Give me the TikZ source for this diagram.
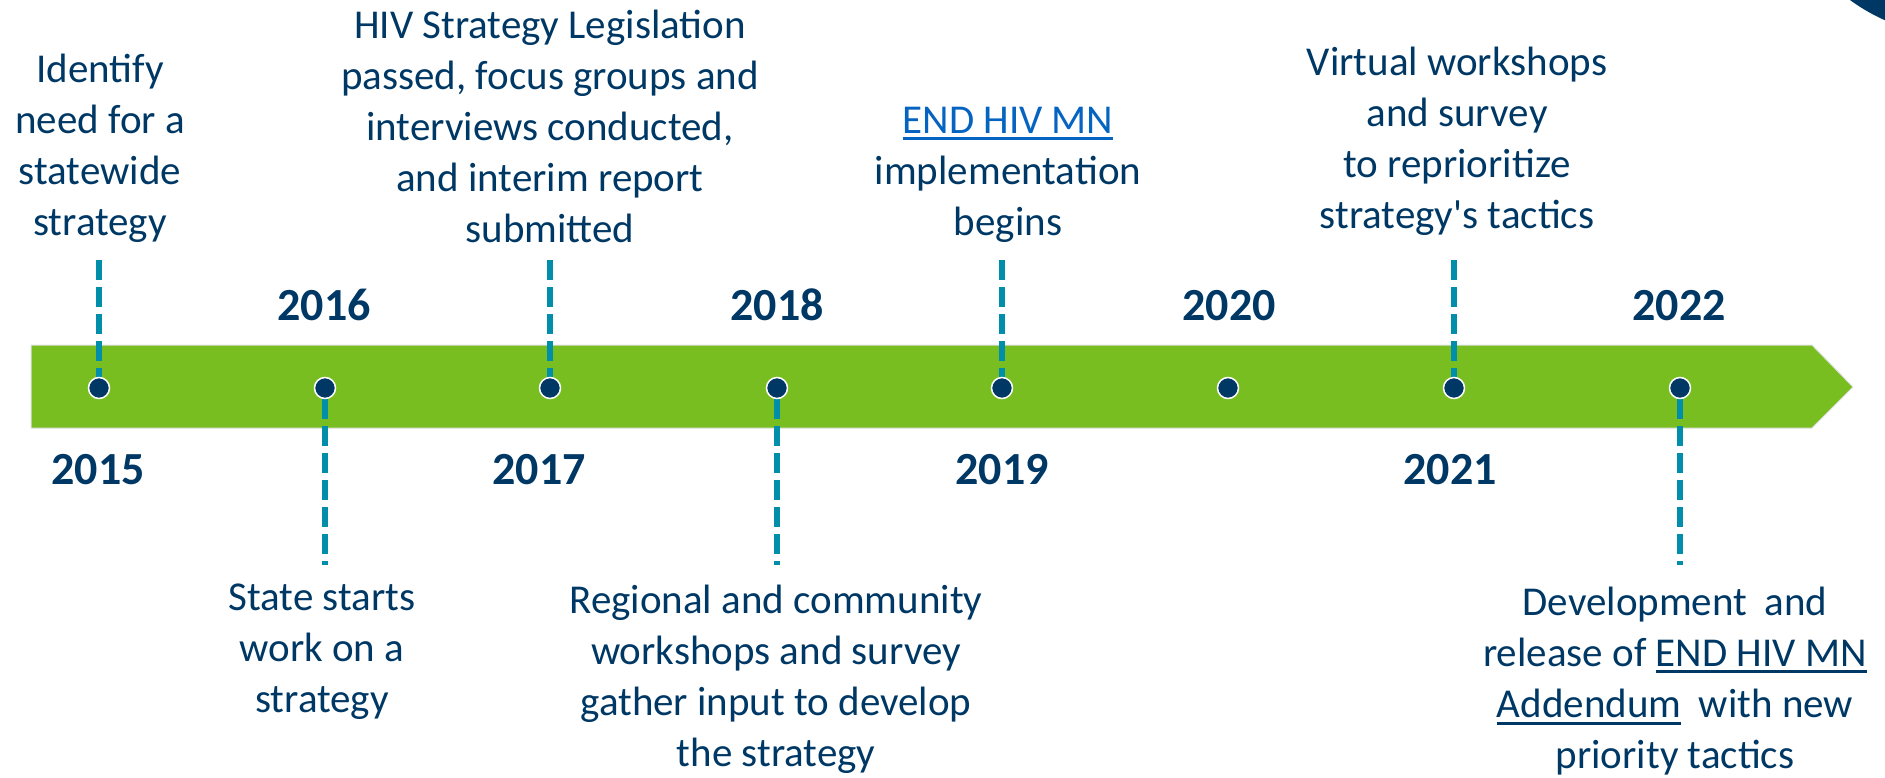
\documentclass[tikz,border=0pt]{standalone}
\usepackage{fontspec}
\setmainfont{Carlito}
\definecolor{navy}{HTML}{003865}
\definecolor{linkblue}{HTML}{0563C1}
\definecolor{bargreen}{HTML}{78BE21}
\definecolor{dashteal}{HTML}{008EAA}
\pgfdeclarelayer{barlayer}
\pgfdeclarelayer{linelayer}
\pgfsetlayers{barlayer,linelayer,main}
\newcommand\ulx[1]{\vtop{\hbox{#1}\kern4pt\hrule height 3pt}}
\begin{document}
\begin{tikzpicture}[x=1pt,y=-1pt,
  txt/.style={text=navy, font=\fontsize{41}{51}\selectfont, align=center, anchor=north, inner sep=0pt},
  yr/.style={text=navy, font=\fontsize{46}{46}\selectfont\bfseries, anchor=base, inner sep=0pt},
  dotnode/.style={circle, fill=navy, draw=white, line width=1.5pt, minimum size=21pt, inner sep=0pt},
  dashline/.style={draw=dashteal, line width=6pt, dash pattern=on 20pt off 7pt}]
\useasboundingbox (0,0) rectangle (1885,777);
% corner decoration
\begin{scope}
  \clip (0,0) rectangle (1885,777);
  \fill[navy] (1960,-150) circle (186);
\end{scope}
% timeline bar
\begin{pgfonlayer}{barlayer}
  \fill[bargreen, draw=black!12, line width=1pt] (31,345) -- (1812,345) -- (1853,387) -- (1812,428) -- (31,428) -- cycle;
\end{pgfonlayer}
% dots
\node[dotnode] (d15) at (99,388) {};
\node[dotnode] (d16) at (325,388) {};
\node[dotnode] (d17) at (550,388) {};
\node[dotnode] (d18) at (777,388) {};
\node[dotnode] (d19) at (1002,388) {};
\node[dotnode] (d20) at (1228,388) {};
\node[dotnode] (d21) at (1454,388) {};
\node[dotnode] (d22) at (1680,388) {};
% years
\node[yr] (y15) at (98,484) {2015};
\node[yr] (y16) at (324,320) {2016};
\node[yr] (y17) at (539,484) {2017};
\node[yr] (y18) at (777,320) {2018};
\node[yr] (y19) at (1002,484) {2019};
\node[yr] (y20) at (1229,320) {2020};
\node[yr] (y21) at (1450,484) {2021};
\node[yr] (y22) at (1679,320) {2022};
% dash ends
\coordinate (e15) at (99,260);
\coordinate (e17) at (550,260);
\coordinate (e19) at (1002,260);
\coordinate (e21) at (1454,260);
\coordinate (e16) at (325,565);
\coordinate (e18) at (777,565);
\coordinate (e22) at (1680,565);
\begin{pgfonlayer}{linelayer}
  \draw[dashline] (e15) -- (d15.center);
  \draw[dashline] (e17) -- (d17.center);
  \draw[dashline] (e19) -- (d19.center);
  \draw[dashline] (e21) -- (d21.center);
  \draw[dashline] (d16.south) -- (e16);
  \draw[dashline] (d18.south) -- (e18);
  \draw[dashline] (d22.south) -- (e22);
\end{pgfonlayer}
% texts above
\node[txt] (t15) at (100,50) {\rule{0pt}{32pt}Identify\\need for a\\statewide\\strategy};
\node[txt] (t17) at (550,6) {\rule{0pt}{32pt}HIV Strategy Legislation\\passed, focus groups and\\interviews conducted,\\and interim report\\submitted};
\node[txt] (t19) at (1008,101) {\rule{0pt}{32pt}\textcolor{linkblue}{\ulx{END HIV MN}}\\implementation\\begins};
\node[txt] (t21) at (1457,43) {\rule{0pt}{32pt}Virtual workshops\\and survey\\to reprioritize\\strategy\textquotesingle s tactics};
% texts below
\node[txt] (t16) at (322,578) {\rule{0pt}{32pt}State starts\\work on a\\strategy};
\node[txt] (t18) at (776,581) {\rule{0pt}{32pt}Regional and community\\workshops and survey\\gather input to develop\\the strategy};
\node[txt] (t22) at (1675,583) {\rule{0pt}{32pt}Development\hspace{0.2em} and\\release of \ulx{END HIV MN}\\\ulx{Addendum}\hspace{0.2em} with new\\priority tactics};
\end{tikzpicture}
\end{document}
